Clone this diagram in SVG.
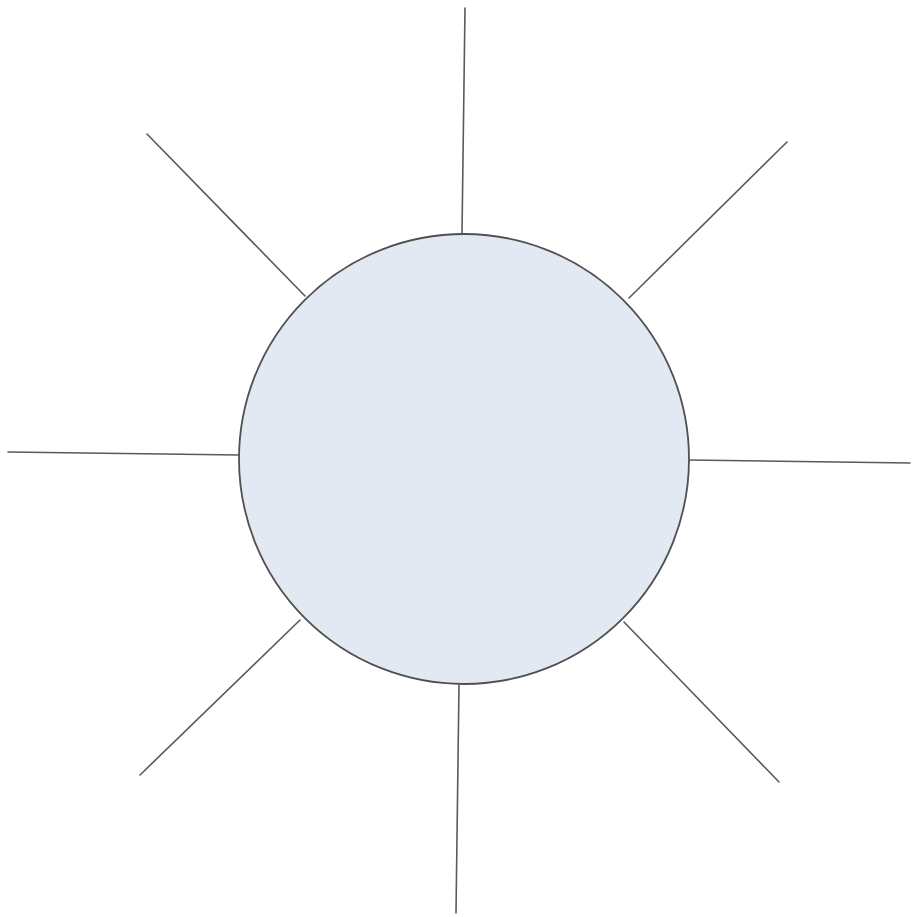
<svg xmlns="http://www.w3.org/2000/svg" width="913" height="917" viewBox="0 0 913 917">
<style>
.spoke{stroke:#5a5a5a;stroke-width:1.6;fill:none;stroke-linecap:round}
.hub{fill:#e3e9f2;stroke:#505050;stroke-width:1.8}
</style>
<rect width="913" height="917" fill="#ffffff"/>
<g id="connectors">
<line class="spoke" x1="465" y1="8" x2="462" y2="233"/>
<line class="spoke" x1="787" y1="142" x2="629" y2="298"/>
<line class="spoke" x1="689" y1="460" x2="910" y2="463"/>
<line class="spoke" x1="624" y1="622" x2="779" y2="782"/>
<line class="spoke" x1="459" y1="685" x2="456" y2="913"/>
<line class="spoke" x1="300" y1="620" x2="140" y2="775"/>
<line class="spoke" x1="8" y1="452" x2="239" y2="455"/>
<line class="spoke" x1="147" y1="134" x2="305" y2="296"/>
</g>
<g id="hub">
<circle class="hub" cx="464" cy="459" r="225"/>
</g>
</svg>
